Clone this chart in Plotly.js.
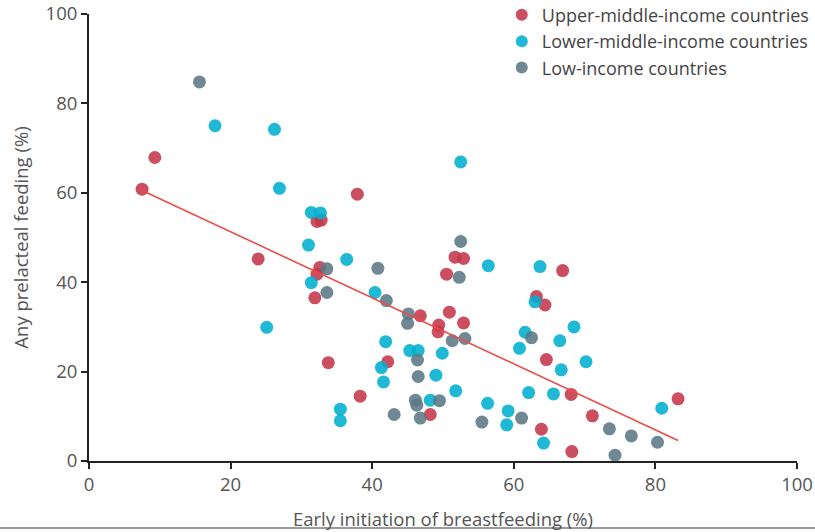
<!DOCTYPE html>
<html>
<head>
<meta charset="utf-8">
<script src="https://cdn.plot.ly/plotly-3.0.1.min.js"></script>
<style>
  html, body { margin: 0; padding: 0; background: #ffffff; }
  #chart { width: 815px; height: 532px; }
</style>
</head>
<body>
<div id="chart"></div>
<script>
// Upper-middle-income countries
const upperX = [7.5, 9.3, 23.9, 37.9, 32.2, 32.8, 32.6, 32.2, 31.9, 33.8, 42.2, 38.3, 48.2, 46.8, 50.9, 49.4, 49.3, 52.9, 51.7, 52.9, 50.5, 66.9, 63.2, 64.4, 64.6, 68.1, 71.1, 63.9, 68.2, 83.2];
const upperY = [60.8, 67.9, 45.2, 59.7, 53.6, 53.9, 43.3, 41.8, 36.5, 22.0, 22.2, 14.5, 10.4, 32.5, 33.3, 30.4, 28.9, 30.9, 45.6, 45.3, 41.8, 42.6, 36.8, 34.9, 22.7, 14.9, 10.1, 7.1, 2.1, 13.9];

// Lower-middle-income countries
const lowerX = [17.8, 26.2, 26.9, 31.4, 32.7, 31.0, 36.4, 31.4, 40.4, 25.1, 41.9, 45.3, 46.5, 49.9, 41.3, 41.6, 49.0, 51.8, 35.5, 35.5, 48.2, 56.3, 52.5, 56.4, 63.7, 63.0, 61.6, 68.5, 66.5, 60.8, 70.2, 66.7, 62.1, 65.6, 59.2, 59.0, 64.2, 80.9];
const lowerY = [75.0, 74.2, 61.0, 55.6, 55.5, 48.3, 45.1, 39.9, 37.7, 29.9, 26.7, 24.7, 24.7, 24.1, 20.9, 17.7, 19.2, 15.7, 11.6, 9.0, 13.6, 12.9, 66.9, 43.7, 43.5, 35.6, 28.8, 30.0, 26.9, 25.2, 22.2, 20.4, 15.3, 15.0, 11.2, 8.1, 4.0, 11.8];

// Low-income countries
const lowX = [15.6, 40.8, 33.6, 33.6, 42.0, 52.5, 52.3, 45.1, 45.0, 53.1, 51.3, 46.4, 46.5, 43.1, 46.1, 46.3, 49.5, 46.8, 55.5, 62.5, 61.1, 73.5, 76.6, 80.3, 74.3];
const lowY = [84.8, 43.1, 43.0, 37.7, 35.9, 49.1, 41.1, 32.9, 30.8, 27.4, 26.9, 22.6, 18.9, 10.4, 13.6, 12.5, 13.5, 9.6, 8.7, 27.6, 9.6, 7.2, 5.6, 4.2, 1.3];

// Fitted regression line endpoints
const fitX = [7.5, 83.2];
const fitY = [60.5, 4.6];

const seriesNames = ['Upper-middle-income countries', 'Lower-middle-income countries', 'Low-income countries'];
const xTicks = [0, 20, 40, 60, 80, 100];
const yTicks = [0, 20, 40, 60, 80, 100];

const FONT = '"Open Sans", "Liberation Sans", Arial, sans-serif';
const colors = ['#c4374a', '#00afd0', '#5b7884'];

function pts(x, y, name, color) {
  return {
    type: 'scatter', mode: 'markers', x: x, y: y, name: name,
    cliponaxis: false,
    marker: { color: color, size: 13, opacity: 0.88, line: { width: 0 } }
  };
}

const data = [
  pts(upperX, upperY, seriesNames[0], colors[0]),
  pts(lowerX, lowerY, seriesNames[1], colors[1]),
  pts(lowX, lowY, seriesNames[2], colors[2]),
  {
    type: 'scatter', mode: 'lines', x: fitX, y: fitY, showlegend: false,
    cliponaxis: false,
    line: { color: '#ec4c46', width: 1.6 }
  }
];

const axisCommon = {
  showgrid: false, zeroline: false, showline: true,
  linecolor: '#222', linewidth: 2,
  ticks: 'outside', ticklen: 6, tickwidth: 2, tickcolor: '#222',
  tickfont: { family: FONT, size: 18.5, color: '#555' },
  fixedrange: true
};

const layout = {
  width: 815, height: 532,
  margin: { l: 89, r: 18, t: 14, b: 71, autoexpand: false },
  paper_bgcolor: '#ffffff', plot_bgcolor: '#ffffff',
  font: { family: FONT, color: '#555' },
  xaxis: Object.assign({}, axisCommon, {
    range: [0, 100], tickvals: xTicks, ticktext: xTicks.map(String),
    automargin: false,
    title: { text: 'Early initiation of breastfeeding (%)', font: { family: FONT, size: 18.5, color: '#555' }, standoff: 18 }
  }),
  yaxis: Object.assign({}, axisCommon, {
    range: [0, 100], tickvals: yTicks, ticktext: yTicks.map(String),
    automargin: false,
    title: { text: 'Any prelacteal feeding (%)', font: { family: FONT, size: 18.5, color: '#555' }, standoff: 12 }
  }),
  showlegend: true,
  legend: {
    x: 0.583, y: 1.039, xanchor: 'left', yanchor: 'top',
    bgcolor: 'rgba(0,0,0,0)', borderwidth: 0,
    font: { family: FONT, size: 18, color: '#444' },
    itemsizing: 'constant', tracegroupgap: 0
  },
  shapes: [{
    type: 'line', xref: 'paper', yref: 'paper',
    x0: -0.13, x1: 1.03, y0: -0.150, y1: -0.150,
    line: { color: '#9a9a9a', width: 2 }
  }]
};

Plotly.newPlot('chart', data, layout, { staticPlot: true, displayModeBar: false });
</script>
</body>
</html>
